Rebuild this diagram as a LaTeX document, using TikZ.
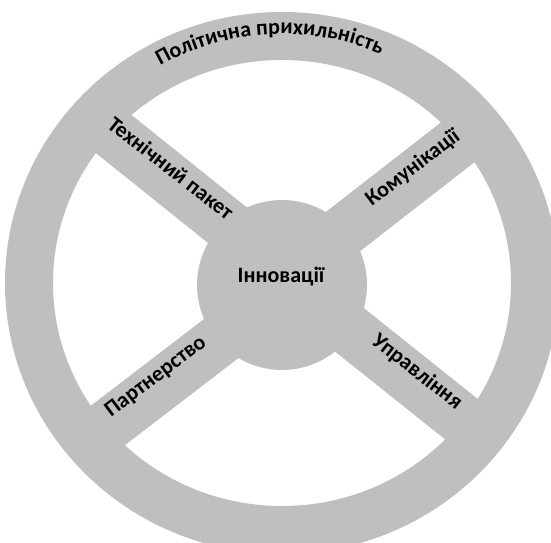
\documentclass[tikz,border=0pt]{standalone}
\usepackage{fontspec}
\setmainfont{Carlito}
\usetikzlibrary{decorations.text}
\definecolor{wheelgray}{RGB}{191,191,191}

\begin{document}
\begin{tikzpicture}[x=1bp, y=1bp,
    spoke/.style={draw=wheelgray, line width=52bp},
    tag/.style={font=\fontsize{22bp}{26bp}\selectfont\bfseries, inner sep=0pt}]

    \useasboundingbox (0,0) rectangle (551,543);
    \clip (0,0) rectangle (551,543);

    % rim
    \coordinate (c) at (282,260);
    \fill[wheelgray, even odd rule] (c) ellipse [x radius=277, y radius=271]
                                    (c) ellipse [x radius=229, y radius=223];

    % spokes
    \coordinate (tech-in) at (282,274);  \coordinate (tech-out) at (90,428);
    \coordinate (comm-in) at (282,264);  \coordinate (comm-out) at (480,418);
    \coordinate (part-in) at (282,251);  \coordinate (part-out) at (85,100);
    \coordinate (mgmt-in) at (282,267);  \coordinate (mgmt-out) at (480,109);
    \draw[spoke] (tech-in) -- (tech-out);
    \draw[spoke] (comm-in) -- (comm-out);
    \draw[spoke] (part-in) -- (part-out);
    \draw[spoke] (mgmt-in) -- (mgmt-out);

    % hub
    \node (hub) [circle, fill=wheelgray, minimum size=170bp] at (282,258) {};
    \node (innov) [tag, anchor=base] at (281,260) {Інновації};

    % labels on the spokes
    \node (tech) [tag, rotate=-38] at (171,375) {Технічний пакет};
    \node (comm) [tag, rotate=37] at (413,375) {Комунікації};
    \node (part) [tag, rotate=37] at (156,166) {Партнерство};
    \node (mgmt) [tag, rotate=-38] at (417,171) {Управління};

    % label along the rim
    \path[decorate, decoration={text along path, text align=center,
        text={|\fontsize{22bp}{26bp}\selectfont\bfseries|Політична прихильність}}]
        ([shift={(153:249)}]c) arc [start angle=153, end angle=33, radius=249];

\end{tikzpicture}
\end{document}
